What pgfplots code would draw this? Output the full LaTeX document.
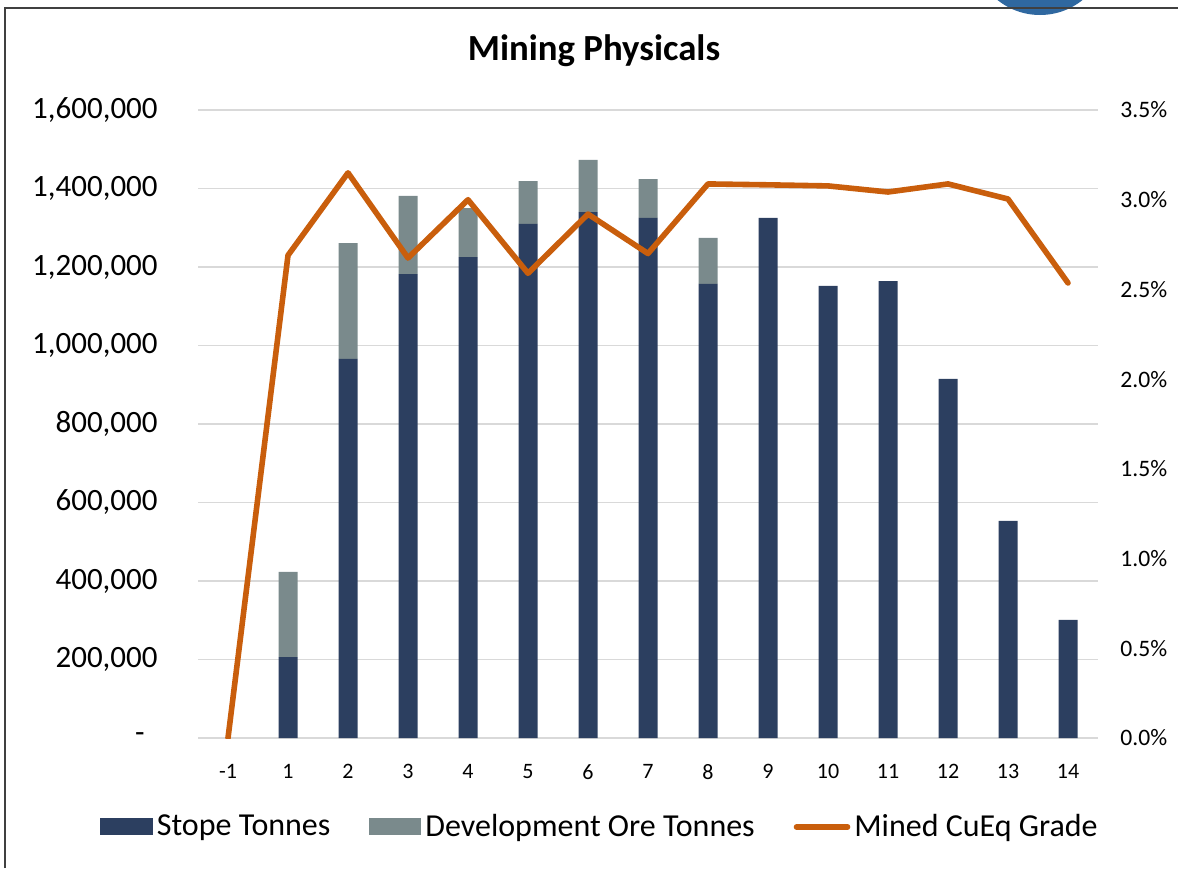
\documentclass[border=0pt]{standalone}
\usepackage{pgfplots}
\pgfplotsset{compat=1.18}
\usepackage{pgfplotstable}
\usepackage{fontspec}
\setmainfont{Carlito}

\definecolor{stope}{RGB}{44,63,96}
\definecolor{devore}{RGB}{122,138,140}
\definecolor{grade}{RGB}{201,94,12}
\definecolor{gridgray}{RGB}{217,217,217}
\definecolor{frame}{RGB}{64,64,64}

% x = category index (0 = year -1, 1..14 = years 1..14)
\pgfplotstableread{
x  stope    dev
0  0        0
1  206000   217000
2  966000   295000
3  1182000  199000
4  1225000  125000
5  1310000  109000
6  1340000  133000
7  1325000  99000
8  1157000  117000
9  1325000  0
10 1152000  0
11 1164000  0
12 915000   0
13 553000   0
14 301000   0
}\tonnes

\pgfplotstableread{
x  grade
0  0.000
1  2.690
2  3.150
3  2.675
4  3.000
5  2.590
6  2.920
7  2.700
8  3.088
9  3.083
10 3.077
11 3.043
12 3.088
13 3.004
14 2.536
}\cueq

\begin{document}
\begin{tikzpicture}
\useasboundingbox (0,0) rectangle (589pt,-434pt);

% logo fragment and chart frame
\begin{scope}
  \clip (0,0) rectangle (589pt,-434pt);
  \fill[color={rgb,255:red,47;green,104;blue,160}] (520pt,26.4pt) circle (33.9pt);
\end{scope}
\draw[frame, line width=1pt] (2.5pt,-434pt) -- (2.5pt,-4pt) -- (589pt,-4pt);

\node[anchor=base, font=\bfseries\fontsize{18.4}{22}\selectfont] at (297pt,-30pt) {Mining Physicals};

\begin{axis}[
  at={(99pt,-369pt)}, anchor=south west,
  scale only axis, width=450pt, height=314pt,
  xmin=-0.5, xmax=14.5,
  ymin=0, ymax=1600000,
  scaled y ticks=false,
  ybar stacked, bar width=9.5pt,
  axis line style={draw=none},
  tick style={draw=none},
  ymajorgrids,
  major grid style={gridgray, line width=0.9pt},
  xtick={0,...,14},
  xticklabels={-1,1,2,3,4,5,6,7,8,9,10,11,12,13,14},
  xticklabel style={font=\fontsize{11}{13}\selectfont, inner sep=0pt, yshift=-13pt},
  ytick={0,200000,...,1600000},
  yticklabels={{-\kern6.5pt},{200,000},{400,000},{600,000},{800,000},{1,000,000},{1,200,000},{1,400,000},{1,600,000}},
  yticklabel style={font=\fontsize{15.5}{18}\selectfont, inner sep=0pt, xshift=-20pt},
  legend columns=3,
  legend style={at={(0.4475,-0.1417)}, anchor=center, draw=none, fill=none,
    inner sep=0pt,
    font=\fontsize{16}{19}\selectfont,
    nodes={inner xsep=2pt, inner ysep=0pt},
    /tikz/every even column/.append style={column sep=17.5pt}},
]
\addplot[fill=stope, draw=none,
  legend image code/.code={\fill[stope] (0pt,-4.25pt) rectangle (26.5pt,4.25pt);}]
  table[x=x, y=stope] {\tonnes};
\addlegendentry{Stope Tonnes}
\addplot[fill=devore, draw=none,
  legend image code/.code={\fill[devore] (0pt,-4.25pt) rectangle (26pt,4.25pt);}]
  table[x=x, y=dev] {\tonnes};
\addlegendentry{Development Ore Tonnes}
\addlegendimage{legend image code/.code={\draw[grade, line width=2.8pt, line cap=round] (1pt,0pt) -- (26.5pt,0pt);}}
\addlegendentry{Mined CuEq Grade}
\end{axis}

\begin{axis}[
  at={(99pt,-369pt)}, anchor=south west,
  scale only axis, width=450pt, height=314pt,
  xmin=-0.5, xmax=14.5,
  ymin=0, ymax=3.5,
  hide x axis,
  axis y line*=right,
  axis line style={draw=none},
  tick style={draw=none},
  ytick={0,0.5,...,3.5},
  yticklabels={{0.0\%},{0.5\%},{1.0\%},{1.5\%},{2.0\%},{2.5\%},{3.0\%},{3.5\%}},
  yticklabel style={font=\fontsize{11.8}{14}\selectfont, inner sep=0pt, xshift=11pt},
]
\addplot[grade, line width=2.8pt, line join=round, line cap=round, mark=none]
  table[x=x, y=grade] {\cueq};
\end{axis}
\end{tikzpicture}
\end{document}
